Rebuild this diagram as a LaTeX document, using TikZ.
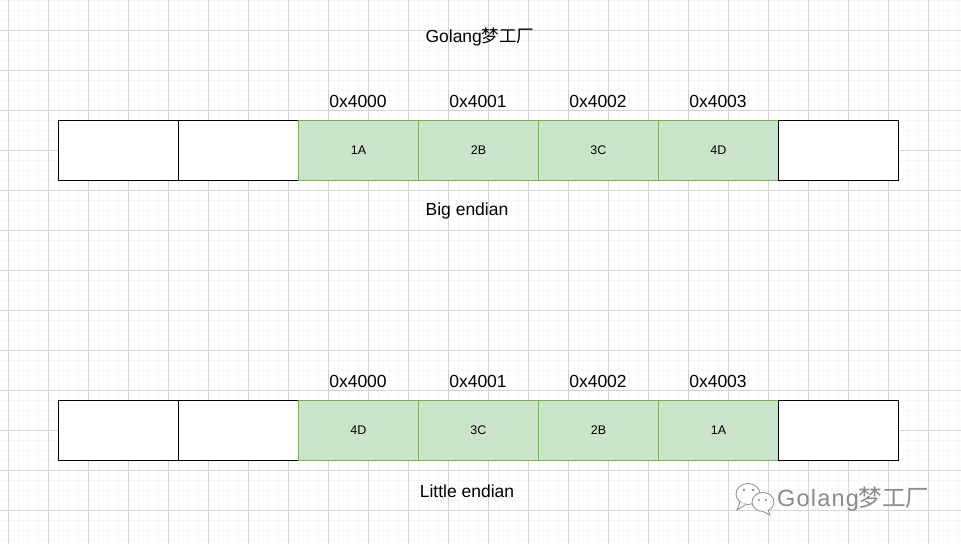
\documentclass[tikz,border=0pt]{standalone}
\usepackage{fontspec}
\setmainfont{Liberation Sans}
\newfontfamily\cjkfont{Noto Sans CJK SC}
\definecolor{gfill}{HTML}{CAE5C9}
\definecolor{gline}{HTML}{7DAE5F}
\definecolor{gridmaj}{HTML}{D6D6D6}
\definecolor{gridmin}{HTML}{F6F6F6}
\definecolor{wm}{HTML}{8A8A8A}
\begin{document}
\begin{tikzpicture}[x=1pt,y=-1pt,
  cellw/.style={draw=black,fill=white,minimum width=120pt,minimum height=60pt,inner sep=0pt,anchor=north west,line width=0.9pt},
  cellg/.style={draw=gline,fill=gfill,minimum width=120pt,minimum height=60pt,inner sep=0pt,anchor=north west,line width=0.9pt,font=\fontsize{12.5}{14}\selectfont},
  addr/.style={font=\fontsize{17.5}{20}\selectfont,inner sep=0pt},
  lbl/.style={font=\fontsize{17.5}{20}\selectfont,inner sep=0pt}]
\useasboundingbox (0,0) rectangle (961,544);
\fill[white] (0,0) rectangle (961,544);
% grid
\foreach \x in {-2,8,...,961} \draw[gridmin,line width=0.8pt] (\x,0) -- (\x,544);
\foreach \y in {0,10,...,544} \draw[gridmin,line width=0.8pt] (0,\y) -- (961,\y);
\foreach \x in {8,48,...,961} \draw[gridmaj,line width=0.8pt] (\x,0) -- (\x,544);
\foreach \y in {30,70,...,544} \draw[gridmaj,line width=0.8pt] (0,\y) -- (961,\y);
% title
\node[lbl] (title) at (480,37) {Golang{\cjkfont 梦工厂}};
% big endian row
\node[cellw] (b1) at (58,120) {};
\node[cellw] (b2) at (178,120) {};
\node[cellg] (b3) at (298,120) {1A};
\node[cellg] (b4) at (418,120) {2B};
\node[cellg] (b5) at (538,120) {3C};
\node[cellg] (b6) at (658,120) {4D};
\node[cellw] (b7) at (778,120) {};
\node[addr] (ba0) at (358,101) {0x4000};
\node[addr] (ba1) at (478,101) {0x4001};
\node[addr] (ba2) at (598,101) {0x4002};
\node[addr] (ba3) at (718,101) {0x4003};
\node[lbl] (big) at (467,211) {Big endian};
% little endian row
\node[cellw] (l1) at (58,400) {};
\node[cellw] (l2) at (178,400) {};
\node[cellg] (l3) at (298,400) {4D};
\node[cellg] (l4) at (418,400) {3C};
\node[cellg] (l5) at (538,400) {2B};
\node[cellg] (l6) at (658,400) {1A};
\node[cellw] (l7) at (778,400) {};
\node[addr] (la0) at (358,381) {0x4000};
\node[addr] (la1) at (478,381) {0x4001};
\node[addr] (la2) at (598,381) {0x4002};
\node[addr] (la3) at (718,381) {0x4003};
\node[lbl] (little) at (467,491) {Little endian};
% watermark icon
\begin{scope}[draw=wm,line width=0.8pt]
  \draw[fill=white] (748,494) ellipse (12pt and 10.5pt);
  \draw[fill=white] (740,502) -- (737,510) -- (746,504.5);
  \draw[fill=white] (763,502) ellipse (11pt and 9.5pt);
  \draw[fill=white] (768,510) -- (770,515) -- (762,511);
  \fill[wm] (744,490) circle (1.4pt) (753,490) circle (1.4pt);
  \fill[wm] (759,500) circle (1.2pt) (766,500) circle (1.2pt);
\end{scope}
\node[font=\fontsize{23.5}{26}\selectfont,text=wm,inner sep=0pt,anchor=west] (wmtext) at (777,499) {\addfontfeatures{LetterSpace=5}Golang{\cjkfont 梦工厂}};
\end{tikzpicture}
\end{document}
